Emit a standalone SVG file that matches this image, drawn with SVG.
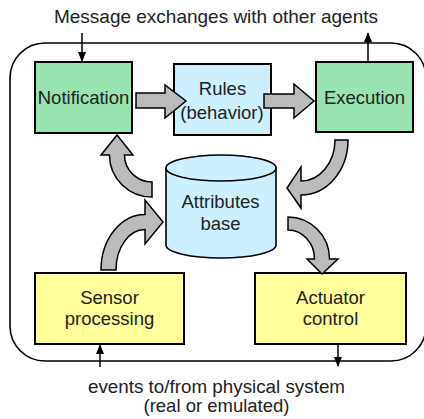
<svg xmlns="http://www.w3.org/2000/svg" width="424" height="419" viewBox="0 0 424 419">
<defs>
<style>
text{font-family:"Liberation Sans",Arial,sans-serif;font-size:18.5px;fill:#222;text-anchor:middle}
.lbl{font-size:18.5px}
.box{stroke:#000;stroke-width:2}
.green{fill:#98e4b0}
.blue{fill:#ccf0fd}
.yellow{fill:#ffff9c}
.big{fill:#bbbbbb;stroke:#000;stroke-width:1.5;stroke-linejoin:miter}
.line{stroke:#000;stroke-width:1.5;fill:none}
</style>
<marker id="ah" markerWidth="10" markerHeight="12" refX="9" refY="5" orient="auto" markerUnits="userSpaceOnUse" viewBox="0 0 10 10">
<path d="M0,1 L10,5 L0,9 Z" fill="#000"/>
</marker>
</defs>
<rect id="frame" x="10" y="43" width="416" height="318" rx="35" ry="35" fill="none" stroke="#000" stroke-width="1.6"/>
<text x="216" y="23" textLength="324" lengthAdjust="spacingAndGlyphs">Message exchanges with other agents</text>
<text x="216.5" y="393" textLength="257" lengthAdjust="spacingAndGlyphs">events to/from physical system</text>
<text x="216.5" y="412">(real or emulated)</text>
<g id="notification">
<rect class="box green" x="35" y="62" width="97" height="71"/>
<text x="83.5" y="104">Notification</text>
</g>
<g id="rules">
<rect class="box blue" x="174" y="64" width="97" height="71"/>
<text x="222.5" y="95">Rules</text>
<text x="222" y="119">(behavior)</text>
</g>
<g id="execution">
<rect class="box green" x="316" y="62" width="97" height="70"/>
<text x="364.5" y="104">Execution</text>
</g>
<g id="attributes">
<path d="M166,168 V245 A55,13 0 0 0 276,245 V168 Z" fill="#ccf0fd" stroke="#000" stroke-width="1.6"/>
<ellipse cx="221" cy="168" rx="55" ry="13" fill="#ccf0fd" stroke="#000" stroke-width="1.6"/>
<text x="220.5" y="208">Attributes</text>
<text x="220.5" y="230">base</text>
</g>
<g id="sensor">
<rect class="box yellow" x="35" y="273" width="149" height="71"/>
<text x="109.5" y="304">Sensor</text>
<text x="109.5" y="325">processing</text>
</g>
<g id="actuator">
<rect class="box yellow" x="255" y="273" width="151" height="71"/>
<text x="330.5" y="304">Actuator</text>
<text x="330.5" y="325">control</text>
</g>
<g id="connectors">
<line class="line" x1="82" y1="33" x2="82" y2="61" marker-end="url(#ah)"/>
<line class="line" x1="368" y1="62" x2="368" y2="33" marker-end="url(#ah)"/>
<line class="line" x1="100" y1="367" x2="100" y2="345" marker-end="url(#ah)"/>
<line class="line" x1="338" y1="344" x2="338" y2="366" marker-end="url(#ah)"/>
<path class="big" d="M136,93 H165 V85 L186,101 L165,118 V108 H136 Z"/>
<path class="big" d="M264,94 H294 V84 L314,101 L294,118 V108 H264 Z"/>
<path class="big" d="M152,182 A27.5,27 0 0 1 124.5,155 L133,155 L117,135 L101,155 L109.5,155 A42.5,42 0 0 0 152,197 Z"/>
<path class="big" d="M101,270 A44,55.5 0 0 1 145,214.5 L145,200 L163,222 L145,244 L145,229.5 A29,40.5 0 0 0 116,270 Z"/>
<path class="big" d="M348,140 A47,55 0 0 1 301,195 L301,208 L287,188 L301,167 L301,181 A34,41 0 0 0 335,140 Z"/>
<path class="big" d="M288,217 A41.5,42 0 0 1 329.5,259 L338,259 L322,274 L307,259 L314.5,259 A26.5,29 0 0 0 288,230 Z"/>
</g>
</svg>
